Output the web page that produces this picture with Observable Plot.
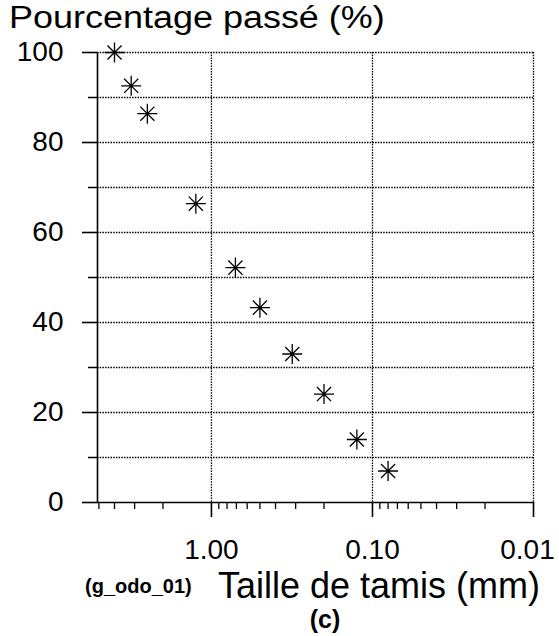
<!DOCTYPE html>
<html>
<head>
<meta charset="utf-8">
<script src="https://cdn.jsdelivr.net/npm/d3@7"></script>
<script src="https://cdn.jsdelivr.net/npm/@observablehq/plot@0.6"></script>
<style>
  html, body { margin: 0; padding: 0; background: #fff; }
  #wrap { position: relative; width: 559px; height: 636px; overflow: hidden; font-family: "Liberation Sans", Arial, sans-serif; color: #000; }
  .t { position: absolute; white-space: nowrap; }
</style>
</head>
<body>
<div id="wrap"></div>
<script>
// ---- data ----
const sieveSizes = [4, 3.15, 2.5, 1.25, 0.71, 0.5, 0.315, 0.2, 0.125, 0.08];
const percentPassing = [100, 92.6, 86.4, 66.4, 52.2, 43.3, 33.0, 24.1, 14.0, 7.0];
const xDomain = [5.1, 0.01];
const xMajorTicks = [1, 0.1, 0.01];
const xTickLabels = ["1.00", "0.10", "0.01"];
const xMinorTicks = [5, 4, 3, 2, 0.9, 0.8, 0.7, 0.6, 0.5, 0.4, 0.3, 0.2, 0.09, 0.08, 0.07, 0.06, 0.05, 0.04, 0.03, 0.02];
const yMajorTicks = [0, 20, 40, 60, 80, 100];
const yMinorTicks = [10, 30, 50, 70, 90];
const yGridLines = [10, 20, 30, 40, 50, 60, 70, 80, 90, 100];
const titleText = "Pourcentage passé (%)";
const xLabelText = "Taille de tamis (mm)";
const codeText = "(g_odo_01)";
const panelText = "(c)";

const data = sieveSizes.map((s, i) => ({size: s, pct: percentPassing[i]}));

// 8-spoke asterisk symbol
const asterisk8 = {
  draw(ctx, size) {
    const r = Math.sqrt(size / Math.PI);
    const d = r * Math.SQRT1_2;
    ctx.moveTo(-r, 0); ctx.lineTo(r, 0);
    ctx.moveTo(0, -r); ctx.lineTo(0, r);
    ctx.moveTo(-d, -d); ctx.lineTo(d, d);
    ctx.moveTo(-d, d); ctx.lineTo(d, -d);
  }
};

const dots = {stroke: "#000", strokeWidth: 1.3, strokeDasharray: "1.5,1.2", strokeOpacity: 1};
const fmt = d => xTickLabels[xMajorTicks.indexOf(d)];

const chart = Plot.plot({
  width: 559,
  height: 636,
  marginTop: 52,
  marginLeft: 97,
  marginRight: 26,
  marginBottom: 134,
  style: {fontFamily: "'Liberation Sans', Arial, sans-serif", fontSize: "28px", color: "#000", background: "#fff"},
  x: {type: "log", domain: xDomain, axis: null},
  y: {domain: [0, 100], axis: null},
  marks: [
    Plot.gridY(yGridLines, dots),
    Plot.gridX(xMajorTicks, dots),
    Plot.ruleY([0], {stroke: "#000", strokeWidth: 1.6}),
    Plot.ruleX([xDomain[0]], {stroke: "#000", strokeWidth: 1.6}),
    Plot.axisY(yMajorTicks, {tickSize: 15, tickPadding: 19, label: null, stroke: "#000", strokeWidth: 1.6, fill: "#000"}),
    Plot.axisY(yMinorTicks, {tickSize: 9, tickFormat: () => "", label: null, stroke: "#000", strokeWidth: 1.5}),
    Plot.axisX(xMajorTicks, {tickSize: 15, tickFormat: () => "", label: null, stroke: "#000", strokeWidth: 1.6}),
    Plot.axisX(xMajorTicks.slice(0, 2), {tickSize: 0, tickPadding: 37, label: null, fill: "#000", tickFormat: fmt}),
    Plot.axisX(xMajorTicks.slice(2), {tickSize: 0, tickPadding: 37, dx: -6, label: null, fill: "#000", tickFormat: fmt}),
    Plot.axisX(xMinorTicks, {tickSize: 7, tickFormat: () => "", label: null, stroke: "#000", strokeWidth: 1.3}),
    Plot.dot(data, {x: "size", y: "pct", symbol: asterisk8, r: 10, stroke: "#000", strokeWidth: 1.3})
  ]
});

const wrap = document.getElementById("wrap");
wrap.appendChild(chart);

// place text so its baseline lands at `baseline`; line box height = lh * F
function addText(txt, F, baseline, left, opts = {}) {
  const lh = opts.lh || 1;
  const el = document.createElement("div");
  el.className = "t";
  el.textContent = txt;
  el.style.fontSize = F + "px";
  el.style.lineHeight = lh * F + "px";
  el.style.top = (baseline - (lh / 2 + 0.3465) * F) + "px";
  el.style.left = left + "px";
  if (opts.bold) el.style.fontWeight = "bold";
  if (opts.transform) { el.style.transform = opts.transform; el.style.transformOrigin = "left center"; }
  wrap.appendChild(el);
  return el;
}
addText(titleText, 31, 29, 9, {transform: "scaleX(1.16)", lh: 0.8});
addText(xLabelText, 36, 598, 218);
addText(codeText, 20, 593, 85, {bold: true});
addText(panelText, 25, 628, 325, {bold: true, transform: "translateX(-50%)"});
</script>
</body>
</html>
